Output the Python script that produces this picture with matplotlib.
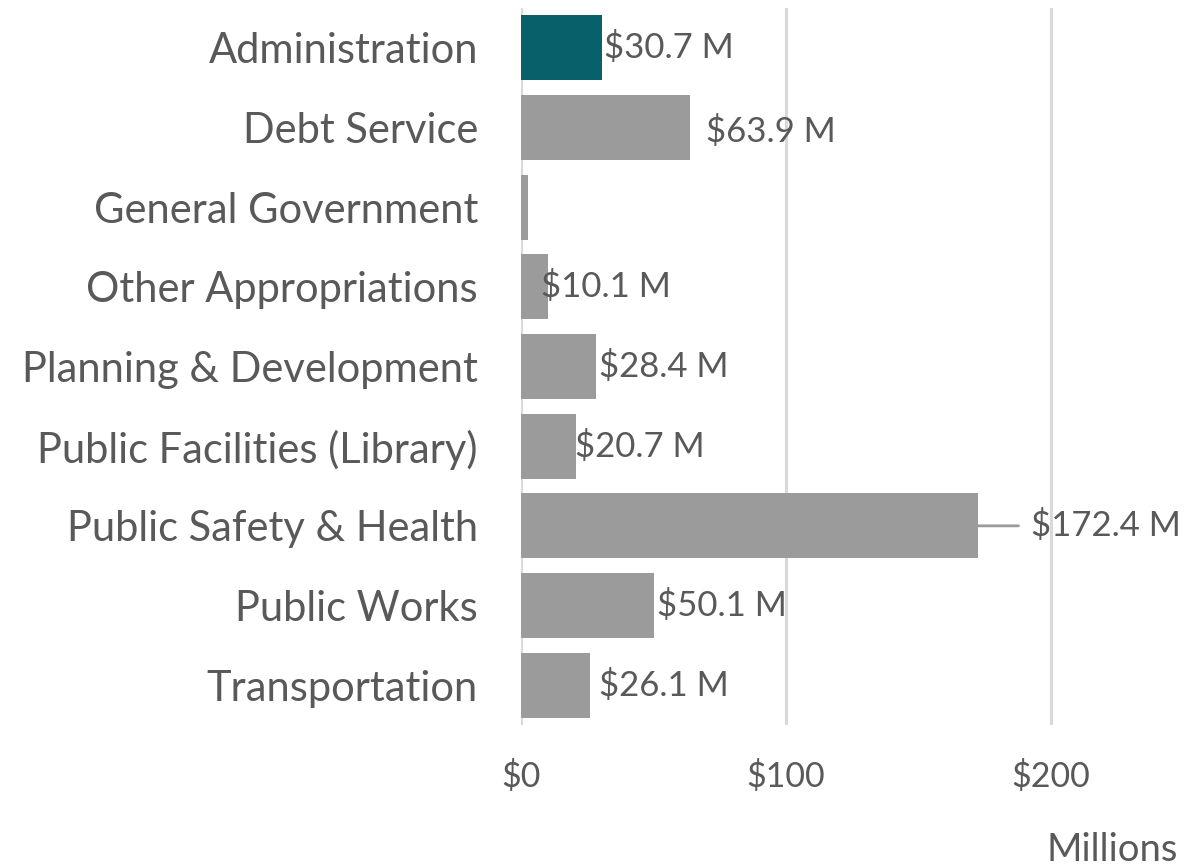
import matplotlib
matplotlib.use("Agg")
from matplotlib import pyplot as plt

categories = [
    "Administration",
    "Debt Service",
    "General Government",
    "Other Appropriations",
    "Planning & Development",
    "Public Facilities (Library)",
    "Public Safety & Health",
    "Public Works",
    "Transportation",
]
values = [30.7, 63.9, 2.5, 10.1, 28.4, 20.7, 172.4, 50.1, 26.1]
labels = ["$30.7 M", "$63.9 M", "", "$10.1 M", "$28.4 M", "$20.7 M",
          "$172.4 M", "$50.1 M", "$26.1 M"]
x_ticks = [0, 100, 200]
x_tick_labels = ["$0", "$100", "$200"]

# label nudges in pixels (Excel's manual placement)
label_dx = [2, 16, 0, -7, 3, -1, 53, 3, 9]
label_dy = [0, -4, 0, 0, 0, 0, 0, 0, 0]

TEAL = "#07606a"
GREY = "#9b9b9b"
TEXT = "#595959"
GRID = "#d9d9d9"

plt.rcParams["font.family"] = ["Lato", "DejaVu Sans"]

W, H = 1184, 866
fig = plt.figure(figsize=(W / 100, H / 100), dpi=100)
ax = fig.add_axes([521 / W, 1 - 725 / H, (1183 - 521) / W, (725 - 8) / H])

ypos = list(range(len(categories)))
colors = [TEAL] + [GREY] * (len(categories) - 1)
ax.barh(ypos, values, height=0.82, color=colors, zorder=3)

ax.set_xlim(0, 250)
ax.set_ylim(len(categories) - 0.5, -0.5)

for x in x_ticks:
    ax.axvline(x, color=GRID, lw=2.2, zorder=1)

ax.set_yticks(ypos)
ax.set_yticklabels(categories, fontsize=30, color=TEXT)
ax.set_xticks(x_ticks)
ax.set_xticklabels(x_tick_labels, fontsize=24.5, color=TEXT)
ax.tick_params(axis="y", length=0, pad=31)
ax.tick_params(axis="x", length=0, pad=25)
for s in ax.spines.values():
    s.set_visible(False)

for i, (v, lab) in enumerate(zip(values, labels)):
    if not lab:
        continue
    ax.annotate(lab, xy=(v, i), xytext=(label_dx[i], label_dy[i]),
                textcoords="offset pixels", ha="left", va="center",
                fontsize=25, color=TEXT, zorder=4)

# leader line for the pushed-out label
i = categories.index("Public Safety & Health")
ax.annotate("", xy=(values[i], i), xytext=(label_dx[i] - 12, 0),
            textcoords="offset pixels",
            arrowprops=dict(arrowstyle="-", color=GREY, lw=2, shrinkA=0, shrinkB=0))

fig.text(1178 / W, 1 - 850 / H, "Millions", ha="right", va="center",
         fontsize=27.5, color=TEXT)

fig.savefig("out.png", dpi=100)
